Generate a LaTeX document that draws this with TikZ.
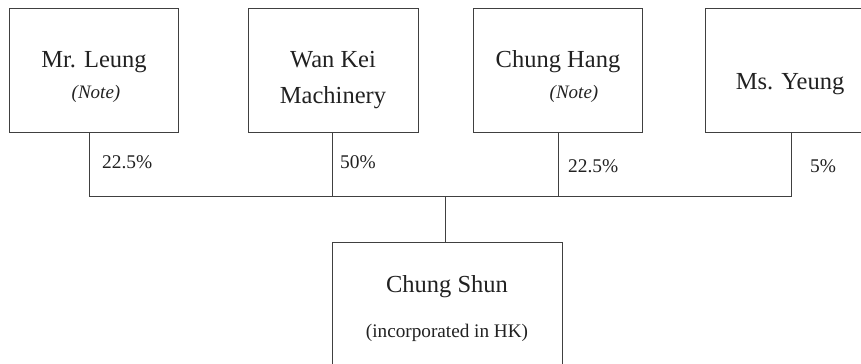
\documentclass[tikz,border=0pt]{standalone}
\usepackage{fontspec}
\setmainfont{Liberation Serif}
\definecolor{linegray}{rgb}{0.25,0.25,0.25}
\definecolor{textgray}{rgb}{0.13,0.13,0.13}
\tikzset{
  entity/.style={draw=linegray, line width=1bp, minimum width=#1, minimum height=124bp, inner sep=0pt},
  link/.style={draw=linegray, line width=1bp},
  ownername/.style={text=textgray, anchor=base, inner sep=0pt, font=\fontsize{24.5bp}{29bp}\selectfont},
  notetext/.style={text=textgray, anchor=base, inner sep=0pt, font=\fontsize{19bp}{23bp}\selectfont\itshape},
  sharetext/.style={text=textgray, anchor=base west, inner sep=0pt, font=\fontsize{19.4bp}{23bp}\selectfont}
}
\begin{document}
\begin{tikzpicture}[x=1bp,y=-1bp]
\useasboundingbox (0,0) rectangle (861,363);
\clip (0,0) rectangle (861,363);
% shareholders
\node[entity=168bp] (leung) at (94,70) {};
\node[entity=170bp] (wankei) at (333,70) {};
\node[entity=169bp] (chunghang) at (557.5,70) {};
\node[entity=170bp] (yeung) at (790,70) {};
% subsidiary
\node[entity=230bp, minimum height=140bp] (chungshun) at (447,312) {};
\node[ownername] (leungname) at (94,67) {Mr. Leung};
\node[notetext] (leungnote) at (96,98) {(Note)};
\node[ownername] (wankeiname) at (333,67) {Wan Kei};
\node[ownername] (wankeiname2) at (333,103) {Machinery};
\node[ownername] (chunghangname) at (558,67) {Chung Hang};
\node[notetext] (chunghangnote) at (574,98) {(Note)};
\node[ownername] (yeungname) at (790,89) {Ms. Yeung};
\node[ownername] (chungshunname) at (447,292) {Chung Shun};
\node[text=textgray, anchor=base, inner sep=0pt, font=\fontsize{19.2bp}{23bp}\selectfont] (chungshuninc) at (447,337) {(incorporated in HK)};
% bus line
\coordinate (bus) at (445,196);
\draw[link] ([xshift=-5bp]leung.south) |- (bus);
\draw[link] ([xshift=-1bp]wankei.south) -- ([xshift=-1bp]wankei.south |- bus);
\draw[link] ([xshift=0.5bp]chunghang.south) -- ([xshift=0.5bp]chunghang.south |- bus);
\draw[link] ([xshift=1bp]yeung.south) |- (bus);
\draw[link] (bus) -- (bus |- chungshun.north);
% percentages
\node[sharetext] (pleung) at (102,168) {22.5\%};
\node[sharetext] (pwankei) at (340,168) {50\%};
\node[sharetext] (pchunghang) at (568,172) {22.5\%};
\node[sharetext] (pyeung) at (810,172) {5\%};
\end{tikzpicture}
\end{document}
